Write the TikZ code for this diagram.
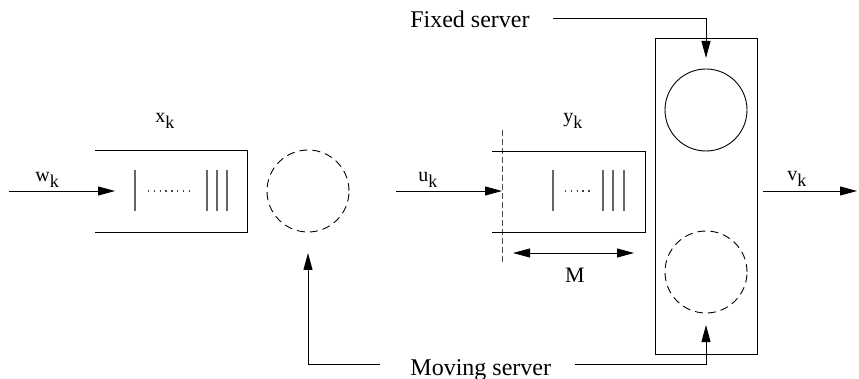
\documentclass[tikz,border=0pt]{standalone}
\usepackage{fontspec}
\setmainfont{Liberation Serif}
\usetikzlibrary{arrows.meta}
\newcommand\varsub[1]{\raisebox{-5.5pt}{\fontsize{18}{20}\selectfont #1}}
\begin{document}
\begin{tikzpicture}[x=1pt,y=-1pt,
  line width=0.9pt,
  conn/.style={-{Triangle[length=17pt,width=9pt]}},
  dconn/.style={{Triangle[length=17pt,width=9pt]}-{Triangle[length=17pt,width=9pt]}},
  qline/.style={draw=black!60, line width=1.3pt},
  qdots/.style={draw=black!75, line width=1.1pt, dash pattern=on 1.3pt off 4.5pt},
  dcirc/.style={circle, draw, dash pattern=on 8pt off 5pt, minimum size=82pt, inner sep=0pt},
  scirc/.style={circle, draw, minimum size=82pt, inner sep=0pt},
  var/.style={font=\fontsize{20}{24}\selectfont, inner sep=0pt},
  lab/.style={font=\fontsize{24}{28}\selectfont, inner sep=0pt}]
\useasboundingbox (0,0) rectangle (859,379);

% ---- left queue
\draw (95,150) -- (247,150) -- (247,232) -- (95,232);
\draw[qline] (135,170) -- (135,211);
\draw[qdots] (148,191) -- (192,191);
\foreach \xx in {207,217,227} \draw[qline] (\xx,170) -- (\xx,211);
\node[var, anchor=base west] (xk) at (155,123) {x\varsub{k}};

% input w_k
\coordinate (win) at (9,191);
\coordinate (wend) at (115,191);
\draw[conn] (win) -- (wend);
\node[var, anchor=base west] (wk) at (35,182) {w\varsub{k}};

% moving server (left, dashed)
\node[dcirc] (ms1) at (308,191) {};

% ---- right queue
\coordinate (uin) at (396,191);
\coordinate (uend) at (502,191);
\draw[conn] (uin) -- (uend);
\node[var, anchor=base west] (uk) at (418,182) {u\varsub{k}};
\coordinate (dtop) at (502,130);
\coordinate (dbot) at (502,262);
\draw[draw=black!70, line width=0.8pt, dash pattern=on 6pt off 3pt] (dtop) -- (dbot);
\draw (492,151) -- (645,151) -- (645,232) -- (492,232);
\draw[qline] (553,170) -- (553,211);
\draw[qdots] (565,191) -- (592,191);
\foreach \xx in {603,613,624} \draw[qline] (\xx,170) -- (\xx,211);
\node[var, anchor=base west] (yk) at (563,123) {y\varsub{k}};

% M
\coordinate (ma) at (513,253);
\coordinate (mb) at (634,253);
\draw[dconn] (ma) -- (mb);
\node[var, font=\fontsize{22}{26}\selectfont, anchor=base] (mlab) at (575,283) {M};

% ---- server station
\node[draw, minimum width=102pt, minimum height=316pt, inner sep=0pt] (station) at (706,196) {};
\node[scirc] (fs) at (706,110) {};
\node[dcirc] (ms2) at (706,272) {};

% output v_k
\coordinate (vin) at (763,191);
\coordinate (vend) at (857,191);
\draw[conn] (vin) -- (vend);
\node[var, anchor=base west] (vk) at (787,181) {v\varsub{k}};

% Fixed server
\node[lab, anchor=base east] (fixed) at (530,28) {Fixed server};
\coordinate (fstart) at (553,18);
\coordinate (ftip) at (706,58);
\draw[conn] (fstart) -| (ftip);

% Moving server
\node[lab, anchor=base west] (moving) at (410,375) {Moving server};
\coordinate (mlstart) at (380,364);
\coordinate (mltip) at (308,253);
\draw[conn] (mlstart) -| (mltip);
\coordinate (mrstart) at (575,364);
\coordinate (mrtip) at (706,325);
\draw[conn] (mrstart) -| (mrtip);
\end{tikzpicture}
\end{document}
